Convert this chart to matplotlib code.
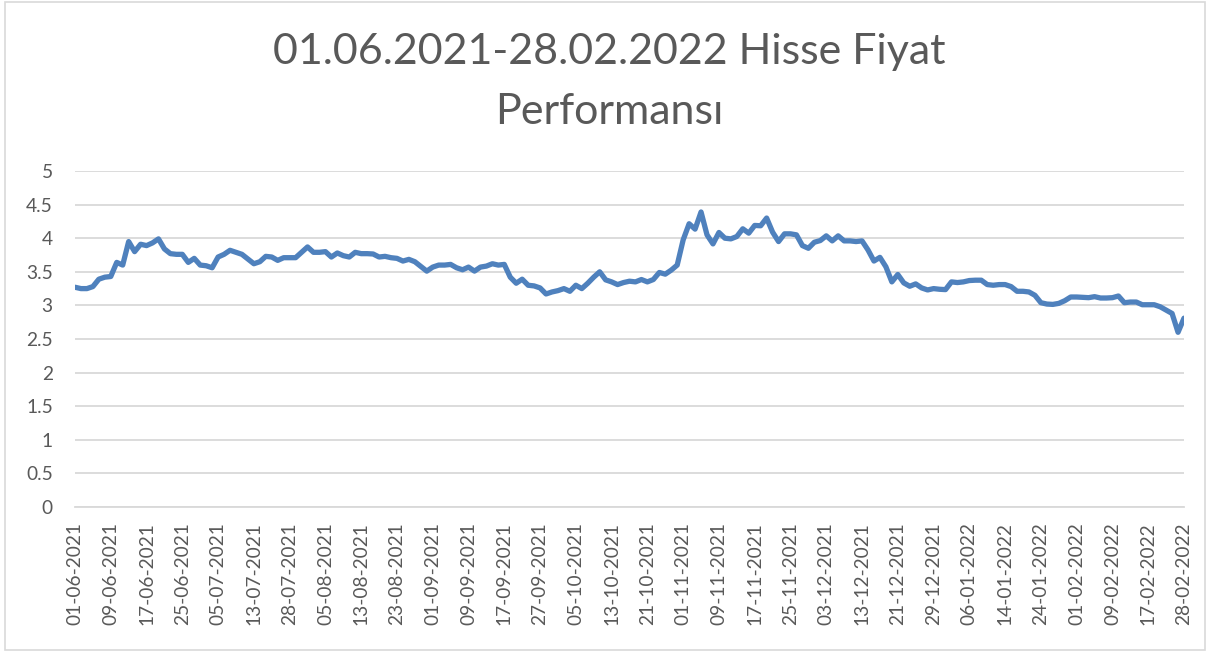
import matplotlib
matplotlib.use('Agg')
import matplotlib.pyplot as plt
from matplotlib.patches import Rectangle

# Daily closing prices, 01-06-2021 .. 28-02-2022
prices = [
    3.27, 3.25, 3.25, 3.28, 3.39, 3.42, 3.43, 3.64, 3.60, 3.95,
    3.80, 3.91, 3.89, 3.93, 3.99, 3.84, 3.77, 3.76, 3.76, 3.64,
    3.70, 3.60, 3.59, 3.56, 3.72, 3.76, 3.82, 3.79, 3.76, 3.69,
    3.62, 3.65, 3.73, 3.72, 3.67, 3.71, 3.71, 3.71, 3.79, 3.87,
    3.79, 3.79, 3.80, 3.72, 3.78, 3.74, 3.72, 3.79, 3.77, 3.77,
    3.765, 3.72, 3.73, 3.71, 3.70, 3.66, 3.685, 3.65, 3.58, 3.51,
    3.57, 3.60, 3.60, 3.61, 3.56, 3.53, 3.57, 3.51, 3.57, 3.585,
    3.62, 3.60, 3.61, 3.42, 3.33, 3.39, 3.30, 3.29, 3.26, 3.17,
    3.20, 3.22, 3.25, 3.21, 3.30, 3.25, 3.33, 3.42, 3.50, 3.38,
    3.35, 3.31, 3.34, 3.36, 3.35, 3.385, 3.35, 3.385, 3.49, 3.465,
    3.525, 3.60, 3.975, 4.215, 4.135, 4.39, 4.05, 3.915, 4.085, 4.00,
    3.99, 4.025, 4.14, 4.075, 4.19, 4.185, 4.30, 4.09, 3.95, 4.065,
    4.065, 4.05, 3.89, 3.85, 3.94, 3.965, 4.035, 3.96, 4.035, 3.96,
    3.96, 3.95, 3.96, 3.825, 3.66, 3.715, 3.575, 3.35, 3.46, 3.335,
    3.285, 3.32, 3.26, 3.23, 3.25, 3.24, 3.235, 3.35, 3.34, 3.35,
    3.37, 3.375, 3.375, 3.31, 3.30, 3.31, 3.31, 3.28, 3.21, 3.21,
    3.20, 3.15, 3.04, 3.02, 3.015, 3.03, 3.07, 3.125, 3.125, 3.12,
    3.115, 3.13, 3.11, 3.11, 3.115, 3.14, 3.04, 3.05, 3.05, 3.01,
    3.01, 3.01, 2.98, 2.93, 2.88, 2.60, 2.81,
]

# Excel shows every 6th date on the category axis
date_labels = [
    '01-06-2021', '09-06-2021', '17-06-2021', '25-06-2021', '05-07-2021',
    '13-07-2021', '28-07-2021', '05-08-2021', '13-08-2021', '23-08-2021',
    '01-09-2021', '09-09-2021', '17-09-2021', '27-09-2021', '05-10-2021',
    '13-10-2021', '21-10-2021', '01-11-2021', '09-11-2021', '17-11-2021',
    '25-11-2021', '03-12-2021', '13-12-2021', '21-12-2021', '29-12-2021',
    '06-01-2022', '14-01-2022', '24-01-2022', '01-02-2022', '09-02-2022',
    '17-02-2022', '28-02-2022',
]
label_step = 6

y_ticks = [0, 0.5, 1, 1.5, 2, 2.5, 3, 3.5, 4, 4.5, 5]
y_tick_labels = ['0', '0.5', '1', '1.5', '2', '2.5', '3', '3.5', '4', '4.5', '5']

text_color = '#595959'
grid_color = '#D9D9D9'
line_color = '#4F81BD'

plt.rcParams['font.family'] = ['Lato', 'DejaVu Sans']

W, H = 1206, 651
fig = plt.figure(figsize=(W / 100, H / 100), dpi=100)
ax = fig.add_axes([75 / W, 1 - 507 / H, (1184 - 75) / W, (507 - 171) / H])

x = list(range(len(prices)))
ax.plot(x, prices, color=line_color, linewidth=3.8, solid_joinstyle='round',
        solid_capstyle='round', zorder=3)

ax.set_xlim(0, len(prices) - 1)
ax.set_ylim(0, 5)
ax.set_yticks(y_ticks)
ax.set_yticklabels(y_tick_labels)
ax.set_xticks(list(range(0, len(prices), label_step)))
ax.set_xticklabels(date_labels, rotation=90)

ax.grid(axis='y', color=grid_color, linewidth=1.3)
ax.set_axisbelow(True)
for side in ['top', 'right', 'left']:
    ax.spines[side].set_visible(False)
ax.spines['bottom'].set_color(grid_color)
ax.spines['bottom'].set_linewidth(1.3)
ax.tick_params(axis='both', length=0, colors=text_color, labelsize=13.8)
ax.tick_params(axis='y', pad=16)
ax.tick_params(axis='x', pad=11)

fig.text(0.505, 1 - 33 / H, '01.06.2021-28.02.2022 Hisse Fiyat\nPerformansı',
         ha='center', va='top', fontsize=31, color=text_color,
         linespacing=1.7)

# chart area border like Excel
fig.patches.append(Rectangle((4.5 / W, 1 / H), 1 - 5.5 / W, 1 - 2.5 / H,
                             transform=fig.transFigure, fill=False,
                             edgecolor=grid_color, linewidth=1.2))

fig.savefig('out.png', dpi=100)
